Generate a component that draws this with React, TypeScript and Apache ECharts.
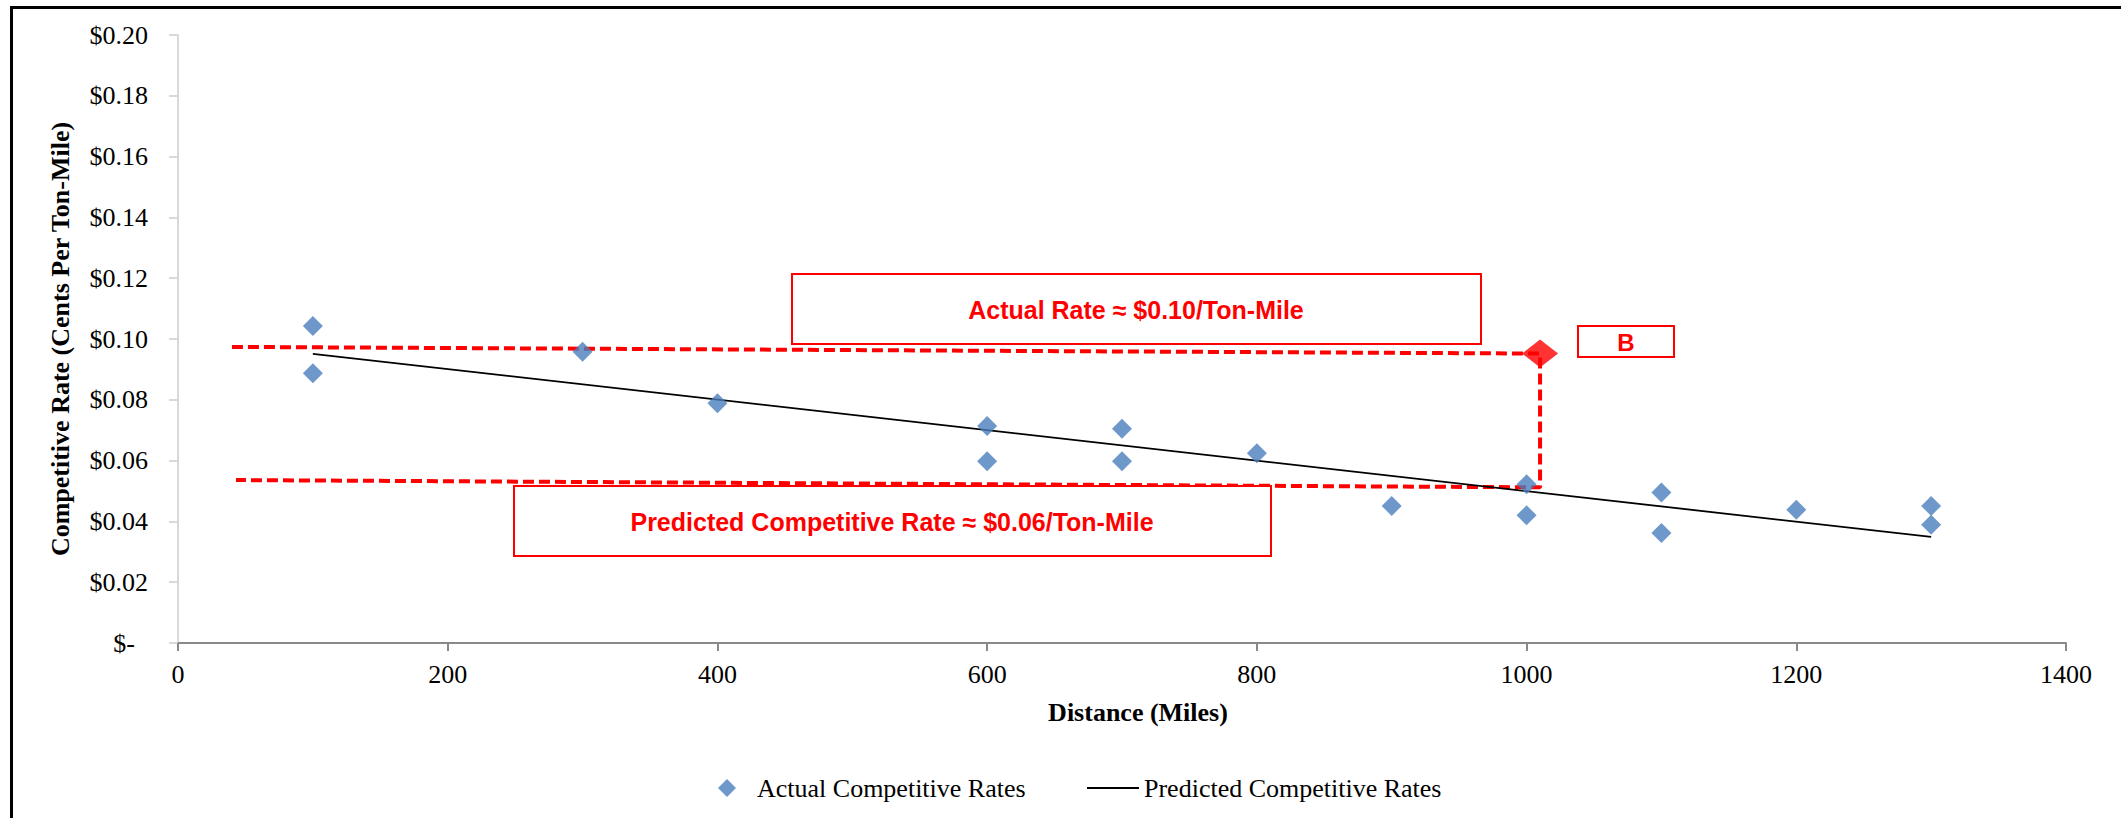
import React, { useEffect, useRef } from "react";
import * as echarts from "echarts";

// ---- data ----
const distances = [100, 100, 300, 400, 600, 600, 700, 700, 800, 900, 1000, 1000, 1100, 1100, 1200, 1300, 1300];
const actualRates = [0.1043, 0.0887, 0.0958, 0.0789, 0.0714, 0.0598, 0.0705, 0.0598, 0.0624, 0.0451, 0.0522, 0.042, 0.0495, 0.0362, 0.0438, 0.0451, 0.0389];

const trendX = [100, 1300];
const trendY = [0.0951, 0.0349];

// red guide: from left at actual rate -> point B -> down to predicted -> back left
const guideX = [40, 1010, 1010, 43];
const guideY = [0.0974, 0.0952, 0.0512, 0.0536];

const pointBX = [1010];
const pointBY = [0.0952];

const xTickMax = 1400;
const xTickStep = 200;
const yTickMax = 0.2;
const yTickStep = 0.02;

const SERIF = "'Liberation Serif', 'Times New Roman', serif";
const SANS = "'Liberation Sans', Arial, sans-serif";
const RED = "#ff0000";

export default function App() {
  const ref = useRef<HTMLDivElement>(null);

  useEffect(() => {
    if (!ref.current) return;
    const chart = echarts.init(ref.current, undefined, { renderer: "svg" });

    const scatterData = distances.map((d, i) => [d, actualRates[i]]);
    const trendData = trendX.map((d, i) => [d, trendY[i]]);
    const guideData = guideX.map((d, i) => [d, guideY[i]]);
    const bData = pointBX.map((d, i) => [d, pointBY[i]]);

    const option: any = {
      animation: false,
      backgroundColor: "#ffffff",
      grid: { left: 178, right: 55, top: 35, bottom: 175, containLabel: false },
      xAxis: {
        type: "value",
        min: 0,
        max: xTickMax,
        interval: xTickStep,
        name: "Distance (Miles)",
        nameLocation: "middle",
        nameGap: 56,
        nameTextStyle: { fontFamily: SERIF, fontWeight: "bold", fontSize: 26, color: "#000", padding: [0, 0, 0, 32] },
        axisLine: { show: true, lineStyle: { color: "#898989", width: 2 } },
        axisTick: { show: true, length: 8, lineStyle: { color: "#898989", width: 2 } },
        axisLabel: {
          fontFamily: SERIF,
          fontSize: 26,
          color: "#000",
          margin: 18,
          formatter: (v: number) => String(v),
        },
        splitLine: { show: false },
      },
      yAxis: {
        type: "value",
        min: 0,
        max: yTickMax,
        interval: yTickStep,
        name: "Competitive Rate (Cents Per Ton-Mile)",
        nameLocation: "middle",
        nameGap: 105,
        nameTextStyle: { fontFamily: SERIF, fontWeight: "bold", fontSize: 26, color: "#000" },
        axisLine: { show: true, lineStyle: { color: "#d9d9d9", width: 2 } },
        axisTick: { show: true, length: 9, lineStyle: { color: "#d9d9d9", width: 2 } },
        axisLabel: {
          fontFamily: SERIF,
          fontSize: 26,
          color: "#000",
          margin: 30,
          formatter: (v: number) => (Math.abs(v) < 1e-9 ? "{z|$-}" : "$" + v.toFixed(2)),
          rich: { z: { fontFamily: SERIF, fontSize: 26, color: "#000", padding: [0, 13, 0, 0] } },
        },
        splitLine: { show: false },
      },
      legend: [
        {
          data: [{ name: "Actual Competitive Rates", icon: "diamond" }],
          left: 713,
          top: 770,
          itemWidth: 18,
          itemHeight: 18,
          textStyle: { fontFamily: SERIF, fontSize: 26, color: "#000", padding: [0, 0, 0, 16] },
        },
        {
          data: [{ name: "Predicted Competitive Rates", icon: "rect" }],
          left: 1082,
          top: 770,
          itemWidth: 52,
          itemHeight: 2,
          textStyle: { fontFamily: SERIF, fontSize: 26, color: "#000", padding: [0, 0, 0, 0] },
        },
      ],
      series: [
        {
          name: "Red Guide",
          type: "line",
          data: guideData,
          symbol: "none",
          lineStyle: { color: RED, width: 4, type: [11, 5] },
          z: 3,
          silent: true,
        },
        {
          name: "Predicted Competitive Rates",
          type: "line",
          data: trendData,
          symbol: "none",
          lineStyle: { color: "#000", width: 1.8 },
          itemStyle: { color: "#000" },
          z: 4,
        },
        {
          name: "Actual Competitive Rates",
          type: "scatter",
          data: scatterData,
          symbol: "diamond",
          symbolSize: 20,
          itemStyle: { color: "#4a7ebb" },
          z: 5,
        },
        {
          name: "Point B",
          type: "scatter",
          data: bData,
          symbol: "diamond",
          symbolSize: [36, 28],
          itemStyle: { color: RED },
          z: 6,
        },
      ],
      graphic: [
        {
          type: "rect",
          left: 9,
          top: 5,
          shape: { x: 0, y: 0, width: 2300, height: 1000 },
          style: { fill: "none", stroke: "#000", lineWidth: 3 },
          silent: true,
          z: 100,
        },
        {
          type: "rect",
          shape: { x: 792, y: 274, width: 689, height: 70 },
          style: { fill: "#fff", stroke: RED, lineWidth: 2 },
          z: 50,
        },
        {
          type: "text",
          x: 1136,
          y: 310,
          style: {
            text: "Actual Rate \u2248 $0.10/Ton-Mile",
            fill: RED,
            font: `bold 25px ${SANS}`,
            textAlign: "center",
            textVerticalAlign: "middle",
          },
          z: 51,
        },
        {
          type: "rect",
          shape: { x: 514, y: 486, width: 757, height: 70 },
          style: { fill: "#fff", stroke: RED, lineWidth: 2 },
          z: 50,
        },
        {
          type: "text",
          x: 892,
          y: 522,
          style: {
            text: "Predicted Competitive Rate \u2248 $0.06/Ton-Mile",
            fill: RED,
            font: `bold 25px ${SANS}`,
            textAlign: "center",
            textVerticalAlign: "middle",
          },
          z: 51,
        },
        {
          type: "rect",
          shape: { x: 1578, y: 326, width: 96, height: 31 },
          style: { fill: "#fff", stroke: RED, lineWidth: 2 },
          z: 50,
        },
        {
          type: "text",
          x: 1626,
          y: 342,
          style: {
            text: "B",
            fill: RED,
            font: `bold 24px ${SANS}`,
            textAlign: "center",
            textVerticalAlign: "middle",
          },
          z: 51,
        },
      ],
    };

    chart.setOption(option);
    return () => chart.dispose();
  }, []);

  return (
    <div
      ref={ref}
      style={{ position: "absolute", left: 0, top: 0, width: 2121, height: 818, background: "#fff" }}
    />
  );
}
